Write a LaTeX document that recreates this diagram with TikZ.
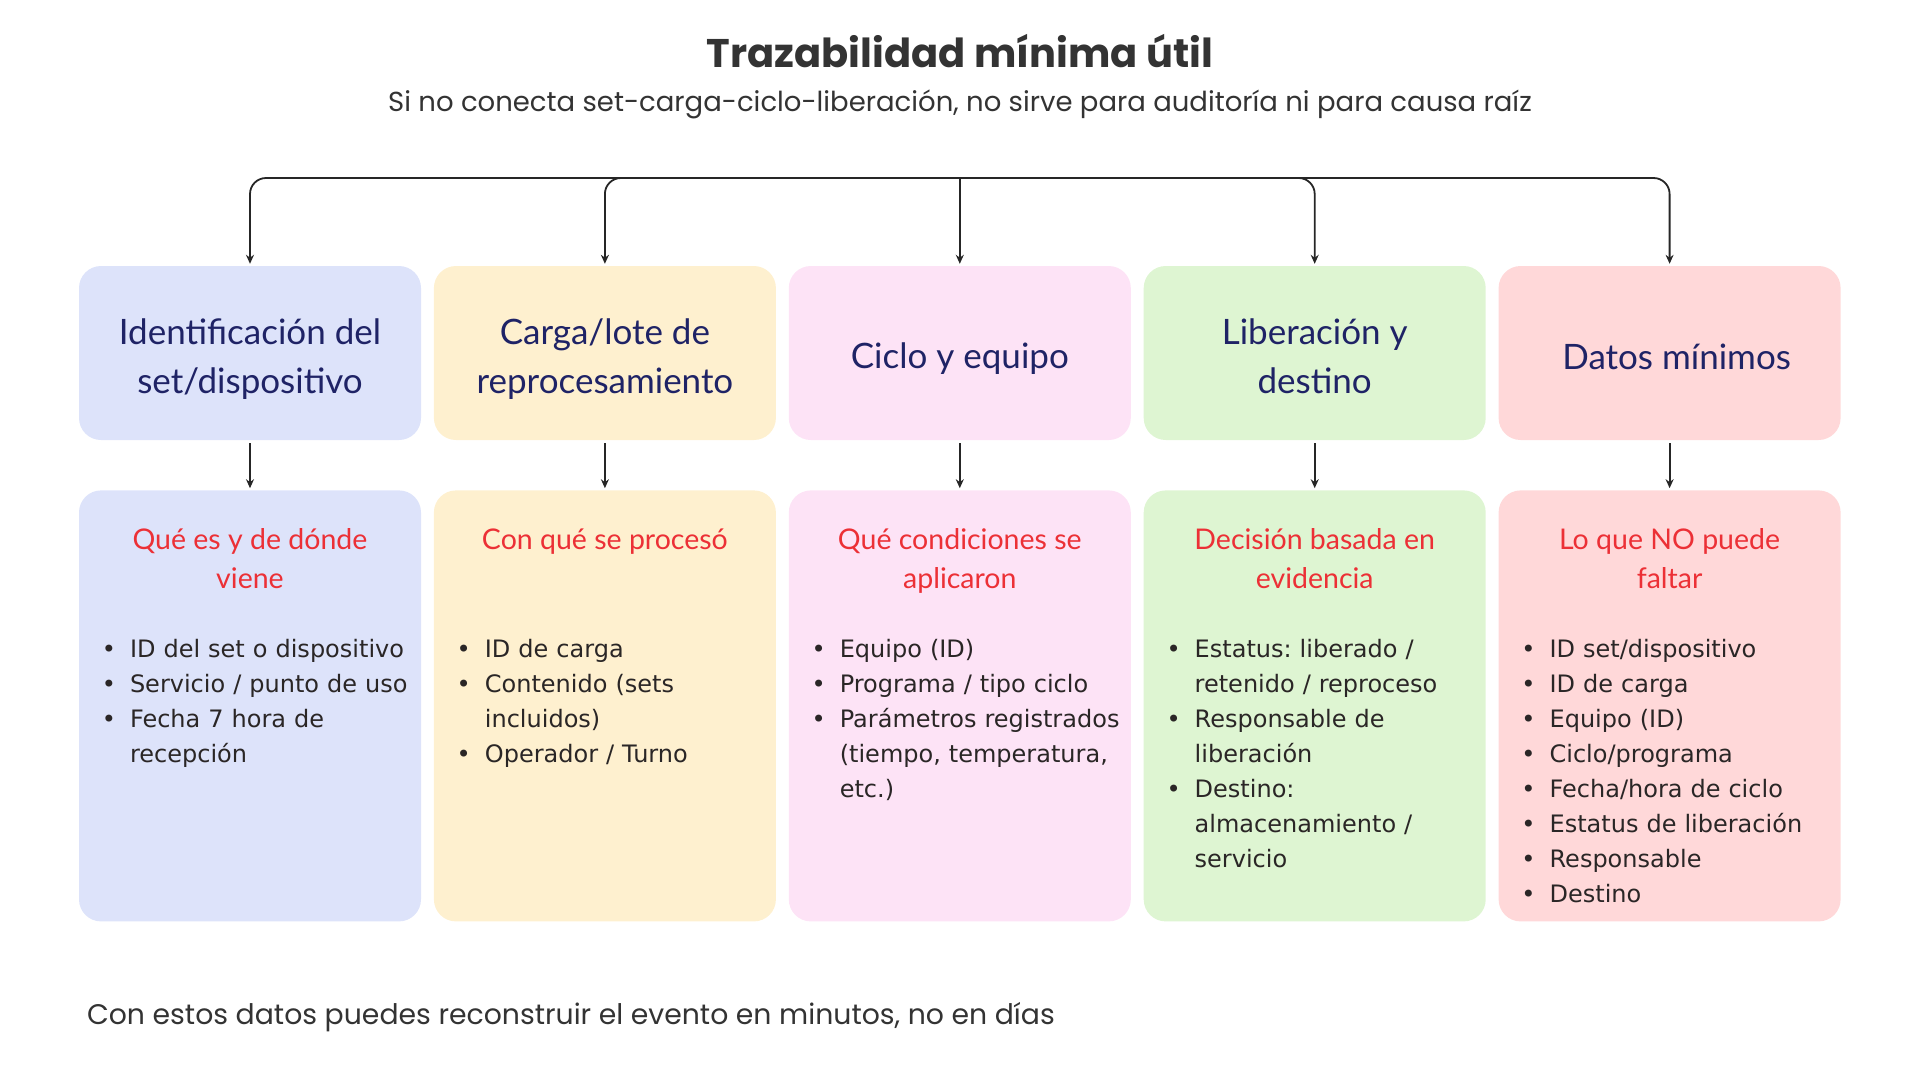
\documentclass[tikz,border=0pt]{standalone}
\usepackage{fontspec}
\usepackage{enumitem}
\setmainfont{Lato}
\newfontfamily\titlefont{Poppins}
\newfontfamily\listfont{DejaVu Sans}
\usetikzlibrary{arrows.meta,positioning}
\frenchspacing
\definecolor{navy}{HTML}{1F2366}
\definecolor{redtxt}{HTML}{EC3036}
\definecolor{graytxt}{HTML}{333333}
\definecolor{listtxt}{HTML}{2A2626}
\definecolor{fillblue}{HTML}{DDE3FA}
\definecolor{fillyellow}{HTML}{FEF0CF}
\definecolor{fillpink}{HTML}{FDE3F6}
\definecolor{fillgreen}{HTML}{DEF5D2}
\definecolor{fillred}{HTML}{FFD8D9}
\tikzset{
  headbox/.style={rounded corners=22pt, minimum width=342pt, minimum height=174pt, inner sep=0pt},
  headtext/.style={inner sep=0pt, align=center, text=navy, font=\fontsize{35}{49}\selectfont},
  bodybox/.style={rounded corners=22pt, minimum width=342pt, minimum height=431pt, inner sep=0pt},
  redhead/.style={anchor=north, inner sep=0pt, align=center, text=redtxt, font=\fontsize{28.5}{39}\selectfont},
  itembox/.style={anchor=north west, inner sep=0pt, text width=315pt, text=listtxt, font=\listfont\fontsize{24}{35}\selectfont},
  link/.style={->, line width=1.8pt, draw=black!85}
}
\newlist{bulletlist}{itemize}{1}
\setlist[bulletlist]{label=\textbullet, leftmargin=29pt, labelsep=14pt, nosep}
\begin{document}
\begin{tikzpicture}[x=1pt, y=-1pt, >={Stealth[length=9pt,width=8pt]}]
    \useasboundingbox (0,0) rectangle (1920,1080);
    \node (title) at (960,51) {\titlefont\bfseries\fontsize{40}{48}\selectfont\color{graytxt}Trazabilidad mínima útil};
    \node (subtitle) at (960,104) {\titlefont\fontsize{27.5}{32}\selectfont\color{graytxt}Si no conecta set-carga-ciclo-liberación, no sirve para auditoría ni para causa raíz};

    \node[headbox, fill=fillblue] (head1) at (250,353) {};
    \node[headbox, fill=fillyellow, right=12.5pt of head1] (head2) {};
    \node[headbox, fill=fillpink, right=12.5pt of head2] (head3) {};
    \node[headbox, fill=fillgreen, right=12.5pt of head3] (head4) {};
    \node[headbox, fill=fillred, right=12.5pt of head4] (head5) {};
    \node[headtext] (name1) at ([yshift=-6pt]head1.center) {Identificación del\\set/dispositivo};
    \node[headtext] (name2) at ([yshift=-6pt]head2.center) {Carga/lote de\\reprocesamiento};
    \node[headtext] (name3) at ([yshift=-6pt]head3.center) {Ciclo y equipo};
    \node[headtext] (name4) at ([yshift=-3.5pt]head4.center) {Liberación y\\destino};
    \node[headtext] (name5) at ([xshift=7pt, yshift=-3.5pt]head5.center) {Datos mínimos};

    \node[bodybox, fill=fillblue, below=50pt of head1] (body1) {};
    \node[bodybox, fill=fillyellow, below=50pt of head2] (body2) {};
    \node[bodybox, fill=fillpink, below=50pt of head3] (body3) {};
    \node[bodybox, fill=fillgreen, below=50pt of head4] (body4) {};
    \node[bodybox, fill=fillred, below=50pt of head5] (body5) {};

    \coordinate (hub) at (head3.north |- 0,178);
    \draw[link, rounded corners=16pt, shorten >=2pt] (hub) -| (head1.north);
    \draw[link, rounded corners=16pt, shorten >=2pt] (hub) -| (head2.north);
    \draw[link, shorten >=2pt] (hub) -- (head3.north);
    \draw[link, rounded corners=16pt, shorten >=2pt] (hub) -| (head4.north);
    \draw[link, rounded corners=16pt, shorten >=2pt] (hub) -| (head5.north);

    \draw[link, shorten <=3pt, shorten >=2pt] (head1.south) -- (body1.north);
    \draw[link, shorten <=3pt, shorten >=2pt] (head2.south) -- (body2.north);
    \draw[link, shorten <=3pt, shorten >=2pt] (head3.south) -- (body3.north);
    \draw[link, shorten <=3pt, shorten >=2pt] (head4.south) -- (body4.north);
    \draw[link, shorten <=3pt, shorten >=2pt] (head5.south) -- (body5.north);

    \node[redhead] (red1) at ([yshift=-38.5pt]body1.north) {Qué es y de dónde\\viene};
    \node[redhead] (red2) at ([yshift=-38.5pt]body2.north) {Con qué se procesó};
    \node[redhead] (red3) at ([yshift=-38.5pt]body3.north) {Qué condiciones se\\aplicaron};
    \node[redhead] (red4) at ([yshift=-38.5pt]body4.north) {Decisión basada en\\evidencia};
    \node[redhead] (red5) at ([yshift=-38.5pt]body5.north) {Lo que NO puede\\faltar};

    \node[itembox] (list1) at ([xshift=22pt, yshift=-132pt]body1.north west) {\begin{bulletlist}
        \item ID del set o dispositivo
        \item Servicio / punto de uso
        \item Fecha 7 hora de\newline recepción
    \end{bulletlist}};
    \node[itembox] (list2) at ([xshift=22pt, yshift=-132pt]body2.north west) {\begin{bulletlist}
        \item ID de carga
        \item Contenido (sets\newline incluidos)
        \item Operador / Turno
    \end{bulletlist}};
    \node[itembox] (list3) at ([xshift=22pt, yshift=-132pt]body3.north west) {\begin{bulletlist}
        \item Equipo (ID)
        \item Programa / tipo ciclo
        \item Parámetros registrados\newline (tiempo, temperatura,\newline etc.)
    \end{bulletlist}};
    \node[itembox] (list4) at ([xshift=22pt, yshift=-132pt]body4.north west) {\begin{bulletlist}
        \item Estatus: liberado /\newline retenido / reproceso
        \item Responsable de\newline liberación
        \item Destino:\newline almacenamiento /\newline servicio
    \end{bulletlist}};
    \node[itembox] (list5) at ([xshift=22pt, yshift=-132pt]body5.north west) {\begin{bulletlist}
        \item ID set/dispositivo
        \item ID de carga
        \item Equipo (ID)
        \item Ciclo/programa
        \item Fecha/hora de ciclo
        \item Estatus de liberación
        \item Responsable
        \item Destino
    \end{bulletlist}};

    \node[anchor=west] (footer) at (83.5,1017) {\titlefont\fontsize{28.3}{32}\selectfont\color{graytxt}Con estos datos puedes reconstruir el evento en minutos, no en días};
\end{tikzpicture}
\end{document}
